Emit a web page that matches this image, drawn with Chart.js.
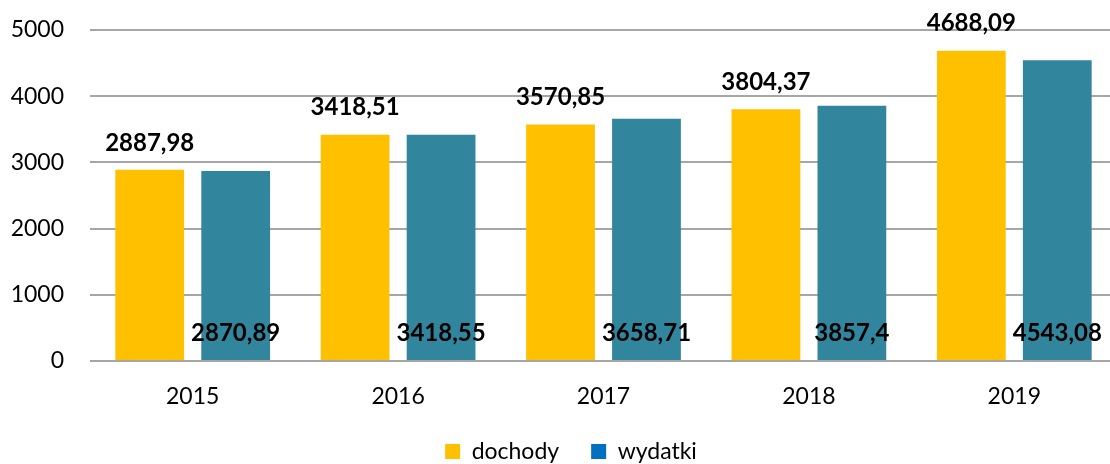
<!DOCTYPE html>
<html lang="pl">
<head>
<meta charset="utf-8">
<title>dochody i wydatki</title>
<script src="https://cdn.jsdelivr.net/npm/chart.js@4.4.1/dist/chart.umd.min.js"></script>
<style>
  html, body { margin: 0; padding: 0; background: #fff; overflow: hidden; }
  #wrap { position: relative; width: 1142px; height: 473px; }
</style>
</head>
<body>
<div id="wrap"><canvas id="chart"></canvas></div>
<script>
// lata i wartości (zł)
const years = ["2015", "2016", "2017", "2018", "2019"];
const dochody = [2887.98, 3418.51, 3570.85, 3804.37, 4688.09];
const wydatki = [2870.89, 3418.55, 3658.71, 3857.4, 4543.08];
const seriesNames = ["dochody", "wydatki"];
const barColors = ["#FFC000", "#31859C"];
const legendColors = ["#FFC000", "#0070C0"];

const FONT = "Lato, 'Open Sans', sans-serif";

function fmt(v) { return String(v).replace(".", ","); }

// podpisy wartości: dochody nad słupkiem, wydatki przy podstawie
const valueLabels = {
  id: "valueLabels",
  afterDatasetsDraw(chart) {
    const ctx = chart.ctx;
    ctx.save();
    ctx.font = "bold 24px " + FONT;
    ctx.fillStyle = "#000";
    ctx.textAlign = "center";
    ctx.textBaseline = "middle";
    chart.data.datasets.forEach(function (ds, i) {
      chart.getDatasetMeta(i).data.forEach(function (bar, j) {
        const y = i === 0 ? bar.y - 27 : bar.base - 27;
        ctx.fillText(fmt(ds.data[j]), bar.x, y);
      });
    });
    ctx.restore();
  }
};

// legenda wyśrodkowana względem całego płótna, nie obszaru bez marginesu
const legendShift = {
  id: "legendShift",
  afterLayout(chart) {
    const lg = chart.legend;
    if (!lg) return;
    const dx = (chart.width - (lg.left + lg.right)) / 2;
    lg.left += dx;
    lg.right += dx;
  }
};

new Chart(document.getElementById("chart"), {
  type: "bar",
  data: {
    labels: years,
    datasets: [
      { label: seriesNames[0], data: dochody, backgroundColor: barColors[0] },
      { label: seriesNames[1], data: wydatki, backgroundColor: barColors[1] }
    ]
  },
  options: {
    responsive: true,
    maintainAspectRatio: false,
    animation: false,
    categoryPercentage: 0.837,
    barPercentage: 0.8,
    layout: { padding: { top: 30, right: 25, left: 0, bottom: 0 } },
    plugins: {
      legend: {
        position: "bottom",
        labels: {
          boxWidth: 15, boxHeight: 15, padding: 32,
          color: "#000",
          font: { family: FONT, size: 23 },
          generateLabels: function (chart) {
            return chart.data.datasets.map(function (ds, i) {
              return { text: ds.label, fillStyle: legendColors[i], strokeStyle: legendColors[i], lineWidth: 0, datasetIndex: i };
            });
          }
        }
      },
      tooltip: { enabled: false }
    },
    scales: {
      x: {
        grid: { display: false, drawTicks: false },
        border: { display: false },
        ticks: { color: "#000", padding: 22, font: { family: FONT, size: 23 } },
        afterFit: function (s) { s.height = 47; }
      },
      y: {
        min: 0, max: 5000,
        ticks: {
          stepSize: 1000, color: "#000", padding: 26, font: { family: FONT, size: 23 },
          callback: function (v) { return String(v); }
        },
        grid: { color: "#A6A6A6", lineWidth: 2, drawTicks: false },
        border: { display: false },
        // stała szerokość osi, bez dodatkowego marginesu nad górną etykietą
        afterFit: function (s) { s.width = 90; s.paddingTop = 0; s.paddingBottom = 0; }
      }
    }
  },
  plugins: [valueLabels, legendShift]
});
</script>
</body>
</html>
